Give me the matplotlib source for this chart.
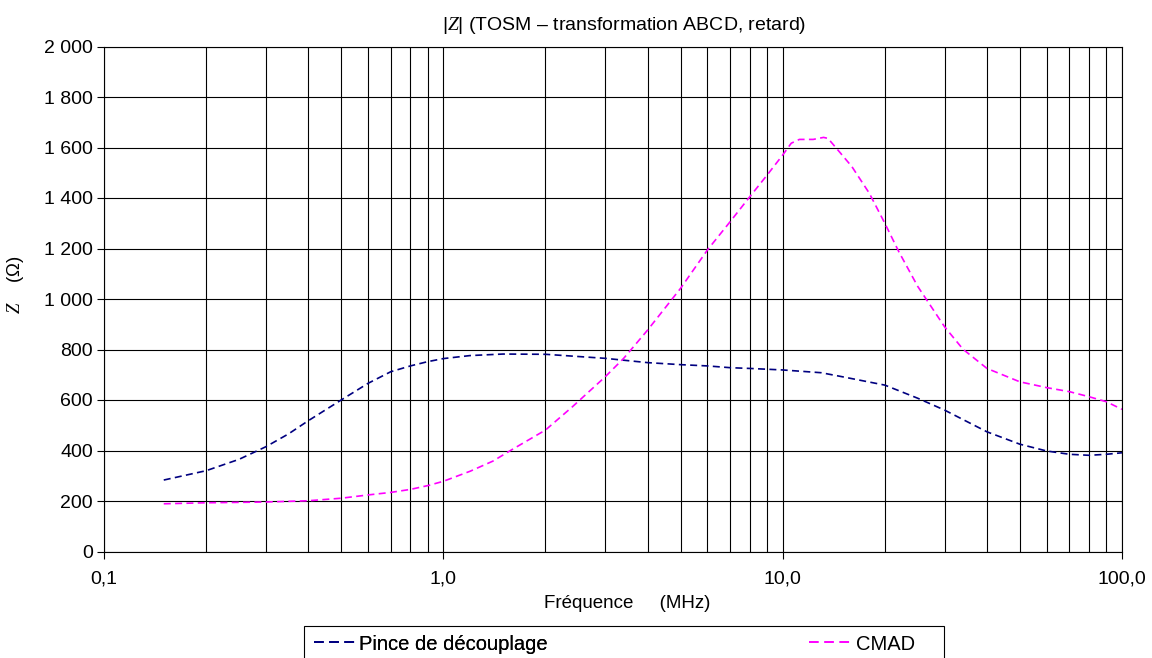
import matplotlib
matplotlib.use("Agg")
import matplotlib.pyplot as plt
from matplotlib.patches import Rectangle
from matplotlib.lines import Line2D

plt.rcParams["font.family"] = ["Liberation Sans", "DejaVu Sans"]
plt.rcParams["mathtext.fontset"] = "custom"
plt.rcParams["mathtext.it"] = "Liberation Serif:italic"
plt.rcParams["mathtext.rm"] = "Liberation Sans"

# ===== data =====
pince_f = [0.15, 0.2, 0.25, 0.3, 0.35, 0.4, 0.5, 0.6, 0.7, 0.8, 0.9, 1.0, 1.2, 1.5,
           2.0, 3.0, 4.0, 5.0, 6.0, 7.0, 8.0, 10.0, 13.0, 15.0, 20.0, 25.0, 30.0,
           40.0, 50.0, 60.0, 70.0, 80.0, 90.0, 100.0]
pince_z = [283, 320, 365, 415, 466, 518, 600, 666, 712, 735, 752, 764, 776, 782,
           781, 765, 748, 740, 735, 728, 725, 719, 708, 692, 659, 607, 560,
           474, 425, 398, 385, 381, 385, 391]

cmad_f = [0.15, 0.2, 0.3, 0.4, 0.5, 0.6, 0.7, 0.8, 0.9, 1.0, 1.2, 1.4, 1.6, 2.0,
          2.4, 3.0, 3.4, 4.0, 5.0, 6.0, 7.0, 8.0, 9.0, 10.0, 10.6, 11.2, 12.3,
          13.2, 13.6, 14.4, 16.0, 18.0, 20.0, 22.0, 25.0, 30.0, 34.0, 40.0,
          50.0, 60.0, 70.0, 80.0, 90.0, 100.0]
cmad_z = [189, 193, 196, 201, 211, 224, 234, 246, 261, 278, 318, 358, 405, 481,
          573, 692, 765, 877, 1042, 1194, 1306, 1405, 1491, 1570, 1617, 1632, 1632,
          1640, 1636, 1597, 1524, 1419, 1300, 1187, 1050, 890, 801, 725,
          672, 649, 633, 613, 593, 563]

x_ticks = [0.1, 1, 10, 100]
x_labels = ["0,1", "1,0", "10,0", "100,0"]
y_ticks = [0, 200, 400, 600, 800, 1000, 1200, 1400, 1600, 1800, 2000]
y_labels = ["0", "200", "400", "600", "800", "1 000", "1 200", "1 400",
            "1 600", "1 800", "2 000"]

# ===== plot =====
fig = plt.figure(figsize=(11.52, 6.58), dpi=100)
W, H = 1152, 658
ax = fig.add_axes([104 / W, 1 - 551.5 / H, (1122 - 104) / W, (551.5 - 46.5) / H])

ax.plot(pince_f, pince_z, color="#000080", lw=1.2, dashes=(4.2, 2.6),
        label="Pince de découplage")
ax.plot(cmad_f, cmad_z, color="#FF00FF", lw=1.2, dashes=(4.2, 2.6), label="CMAD")

ax.set_xscale("log")
ax.set_xlim(0.1, 100)
ax.set_ylim(0, 2000)
ax.set_xticks(x_ticks)
ax.set_xticklabels(x_labels)
ax.set_yticks(y_ticks)
ax.set_yticklabels(y_labels)
ax.tick_params(axis="both", which="major", labelsize=14, length=5, width=0.8,
               direction="out")
ax.tick_params(axis="y", pad=3)
ax.tick_params(axis="x", pad=9)
ax.tick_params(axis="x", which="minor", length=0)

ax.grid(True, which="both", axis="x", color="black", lw=0.8)
ax.grid(True, which="major", axis="y", color="black", lw=0.8)
for s in ax.spines.values():
    s.set_color("black")
    s.set_linewidth(0.8)

ax.set_title("|$Z$| (TOSM \u2013 transformation ABCD, retard)", fontsize=14, pad=12,
             x=(624 - 104) / 1018)
ax.set_xlabel("Fréquence     (MHz)", fontsize=13.5)
ax.xaxis.set_label_coords((627 - 104) / 1018, -(595 - 551.5) / 505)
ax.set_ylabel("$Z$    (\u03a9)", fontsize=13.5)
ax.yaxis.set_label_coords((26 - 104) / 1018, (551.5 - 285) / 505)

# legend box (Excel style, runs off the bottom)
fig.patches.append(Rectangle((304 / W, 0 - 0.05), (944 - 304) / W, (658 - 626) / H + 0.05,
                             transform=fig.transFigure, fill=False,
                             edgecolor="black", lw=0.8))
h1 = Line2D([], [], color="#000080", lw=1.4, dashes=(5.0, 2.8))
h2 = Line2D([], [], color="#FF00FF", lw=1.4, dashes=(5.0, 2.8))
leg1 = fig.legend([h1], ["Pince de découplage"], loc="center left",
                  bbox_to_anchor=(314 / W, 1 - 644 / H), frameon=False,
                  fontsize=14.5, handlelength=2.1, handletextpad=0.15,
                  borderpad=0, borderaxespad=0)
fig.legend([h2], ["CMAD"], loc="center left",
           bbox_to_anchor=(809 / W, 1 - 644 / H), frameon=False,
           fontsize=14.5, handlelength=2.2, handletextpad=0.15,
           borderpad=0, borderaxespad=0)
fig.add_artist(leg1)

fig.savefig("out.png", dpi=100)
